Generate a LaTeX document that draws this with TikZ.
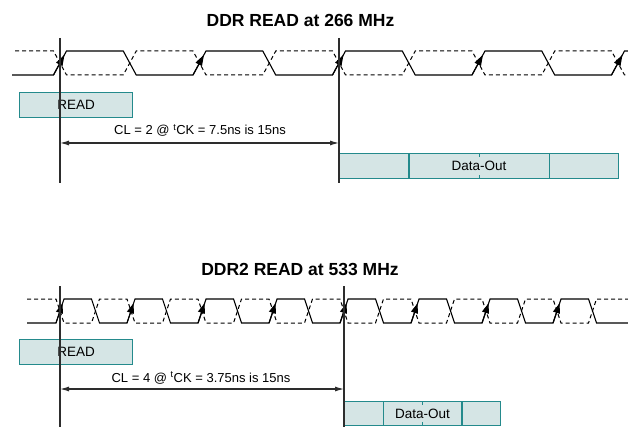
\documentclass[tikz,border=0pt]{standalone}
\usepackage{fontspec}
\setmainfont{Liberation Sans}
\usetikzlibrary{arrows.meta}
\usetikzlibrary{calc}

\definecolor{tealfill}{RGB}{213,229,229}
\definecolor{tealline}{RGB}{36,138,140}
\definecolor{markline}{RGB}{45,45,45}

\begin{document}
\begin{tikzpicture}[
    x=1pt, y=-1pt,
    % Clock styles
    clk/.style={line width=1.1pt, black, line join=miter},
    clkn/.style={line width=1pt, black, dash pattern=on 4pt off 3pt},
    riseedge/.style={line width=1.1pt, black, -{Triangle[length=#1,width=7pt]}},
    % Text styles
    title/.style={font=\fontsize{17.5}{20}\selectfont\bfseries, anchor=base},
    dimlabel/.style={font=\fontsize{13}{15}\selectfont, anchor=base},
    % Boxes
    cmdbox/.style={draw=tealline, fill=tealfill, line width=1.2pt, anchor=north west,
        inner sep=0pt, font=\fontsize{13.5}{15}\selectfont},
    divline/.style={draw=tealline, line width=1.2pt},
    % Markers and dimension arrows
    vline/.style={line width=1.1pt, draw=markline},
    dimarrow/.style={line width=1.1pt, draw=markline, {Latex[length=9pt,width=5pt]}-{Latex[length=9pt,width=5pt]}}
]
    \useasboundingbox (0,0) rectangle (628,427);

    % =========================================================================
    % 1. TOP: DDR AT 266 MHz
    % =========================================================================
    \node[title] (ttl1) at (300.5,27) {DDR READ at 266 MHz};

    % --- Clock pair ---
    \begin{scope}
        \clip (0,0) rectangle (628,427);
        \draw[clk] (12,75) foreach \k in {0,...,4} {
            -- ({60+139.5*\k-6.5},75) -- ({60+139.5*\k+6.5},51)
            -- ({129.75+139.5*\k-6.5},51) -- ({129.75+139.5*\k+6.5},75) };
        \draw[clkn] (15,51) foreach \k in {0,...,4} {
            -- ({60+139.5*\k-6.5},51) -- ({60+139.5*\k+6.5},75)
            -- ({129.75+139.5*\k-6.5},75) -- ({129.75+139.5*\k+6.5},51) };
        % arrow marks on the rising edges
        \foreach \k in {0,...,4}
            \draw[riseedge=11pt] ({60+139.5*\k-6.5},75) -- ({60+139.5*\k+4.5},54.7);
    \end{scope}

    % --- Command and data ---
    \node[cmdbox, minimum width=113pt, minimum height=25pt] (read1) at (19,92) {READ};
    \node[cmdbox, minimum width=279pt, minimum height=25pt] (dout1) at (339,153) {Data-Out};
    \draw[divline] ($(dout1.north west)!0.25!(dout1.north east)$) -- ($(dout1.south west)!0.25!(dout1.south east)$);
    \draw[divline] ($(dout1.north west)!0.75!(dout1.north east)$) -- ($(dout1.south west)!0.75!(dout1.south east)$);
    \draw[divline] (dout1.north) -- ++(0,4);
    \draw[divline] (dout1.south) -- ++(0,-4);

    % --- Latency marker ---
    \coordinate (v1a) at (60,38);   \coordinate (v1b) at (60,183);
    \coordinate (v2a) at (339,38);  \coordinate (v2b) at (339,183);
    \draw[vline] (v1a) -- (v1b);
    \draw[vline] (v2a) -- (v2b);
    \coordinate (cl1s) at (60,143); \coordinate (cl1e) at (339,143);
    \draw[dimarrow] (cl1s) -- (cl1e);
    \node[dimlabel] (lbl1) at (200,135) {CL = 2 @ \textsuperscript{t}CK = 7.5ns is 15ns};

    % =========================================================================
    % 2. BOTTOM: DDR2 AT 533 MHz
    % =========================================================================
    \node[title] (ttl2) at (300,276) {DDR2 READ at 533 MHz};

    % --- Clock pair ---
    \begin{scope}
        \clip (0,0) rectangle (628,427);
        \draw[clk] (27,323) foreach \k in {0,...,7} {
            -- ({60+71*\k-4},323) -- ({60+71*\k+4},299)
            -- ({95.5+71*\k-4},299) -- ({95.5+71*\k+4},323) } -- (628,323);
        \draw[clkn] (27,299) foreach \k in {0,...,7} {
            -- ({60+71*\k-4},299) -- ({60+71*\k+4},323)
            -- ({95.5+71*\k-4},323) -- ({95.5+71*\k+4},299) } -- (628,299);
        % arrow marks on the rising edges
        \foreach \k in {0,...,7}
            \draw[riseedge=10pt] ({60+71*\k-4},323) -- ({60+71*\k+2.6},303.2);
    \end{scope}

    % --- Command and data ---
    \node[cmdbox, minimum width=113pt, minimum height=25pt] (read2) at (19,339) {READ};
    \node[cmdbox, minimum width=156pt, minimum height=24pt] (dout2) at (344,401) {Data-Out};
    \draw[divline] ($(dout2.north west)!0.25!(dout2.north east)$) -- ($(dout2.south west)!0.25!(dout2.south east)$);
    \draw[divline] ($(dout2.north west)!0.75!(dout2.north east)$) -- ($(dout2.south west)!0.75!(dout2.south east)$);
    \draw[divline] (dout2.north) -- ++(0,4);
    \draw[divline] (dout2.south) -- ++(0,-4);

    % --- Latency marker ---
    \coordinate (v3a) at (60,286);  \coordinate (v3b) at (60,427);
    \coordinate (v4a) at (344,286); \coordinate (v4b) at (344,427);
    \draw[vline] (v3a) -- (v3b);
    \draw[vline] (v4a) -- (v4b);
    \coordinate (cl2s) at (60,389); \coordinate (cl2e) at (344,389);
    \draw[dimarrow] (cl2s) -- (cl2e);
    \node[dimlabel] (lbl2) at (201,382) {CL = 4 @ \textsuperscript{t}CK = 3.75ns is 15ns};

\end{tikzpicture}
\end{document}
